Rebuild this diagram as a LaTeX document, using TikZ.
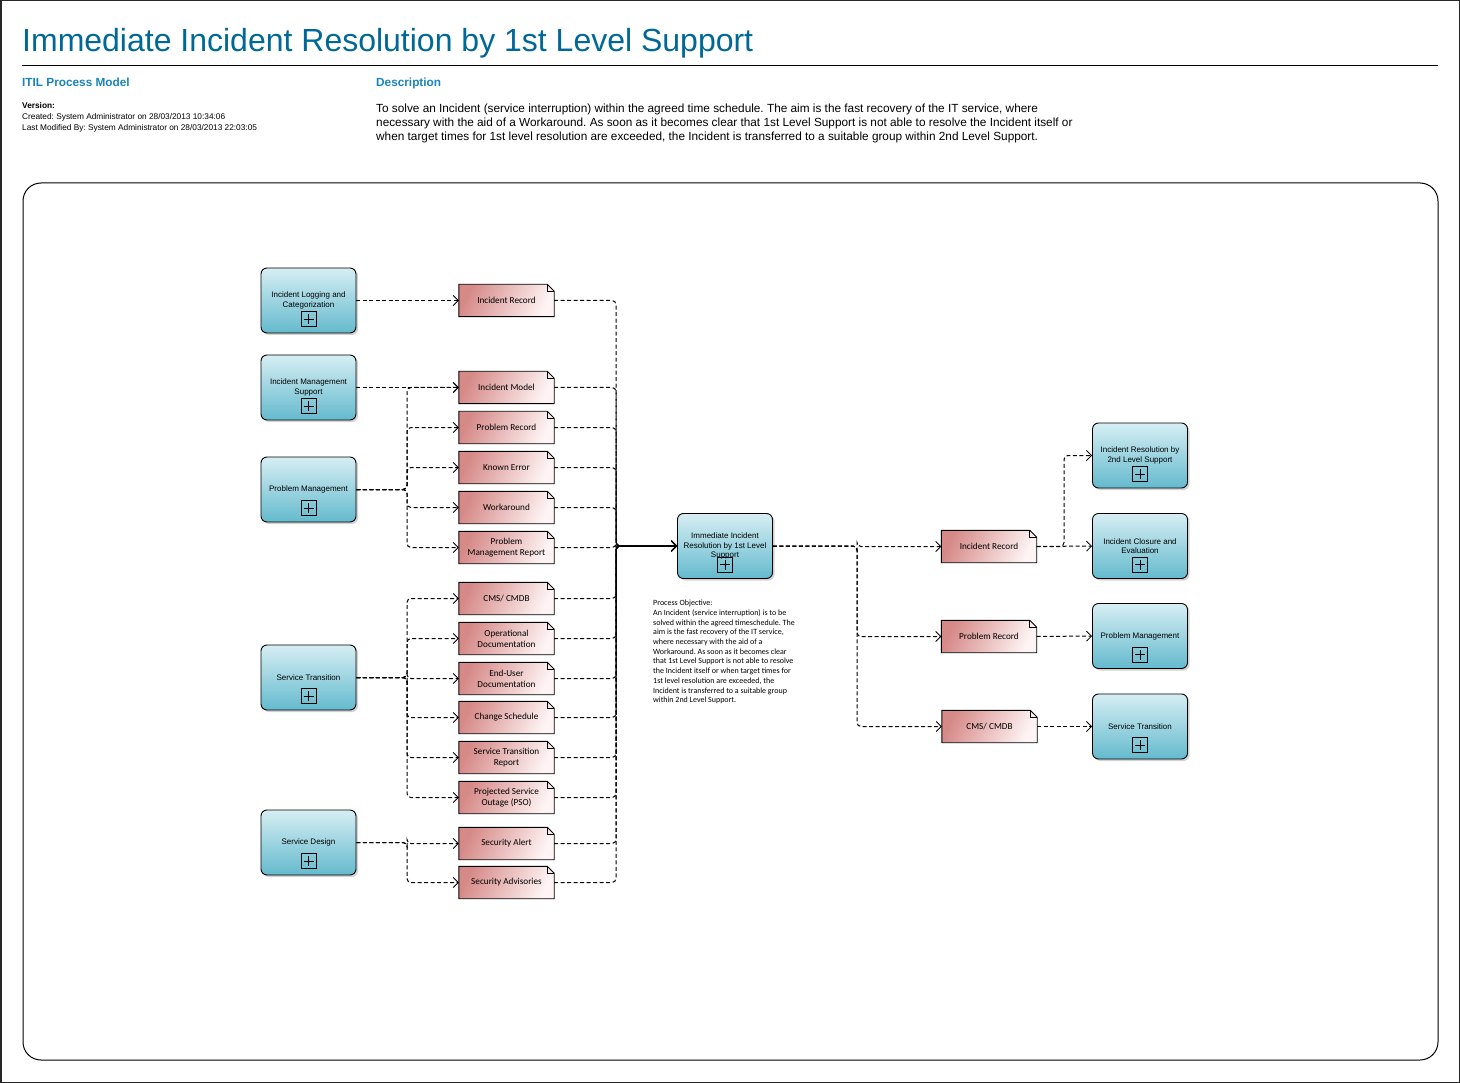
\documentclass[tikz,border=0pt]{standalone}
\usepackage{fontspec}
\setmainfont{Liberation Sans}
\newfontfamily\notefont{Carlito}
\usetikzlibrary{arrows.meta, shadows, calc}
\frenchspacing

\definecolor{titleblue}{RGB}{0,104,150}
\definecolor{headblue}{RGB}{24,132,190}
\definecolor{proctop}{RGB}{214,238,243}
\definecolor{procbot}{RGB}{100,186,206}
\definecolor{docred}{RGB}{214,138,136}
\definecolor{docpale}{RGB}{254,244,244}

% process box with the small "+" marker below its text
\newcommand{\procnode}[3]{%
  \node[proc] (#1) at (#2) {#3};
  \node[plusbox] (#1-plus) at ([yshift=-18.5pt]#1.center) {};
}
% document with folded corner
\newcommand{\docnode}[3]{%
  \node[doc] (#1) at (#2) {#3};
  \draw[docline] (#1.south west) -- (#1.north west) -- ([xshift=-7pt]#1.north east)
    -- ([yshift=-7pt]#1.north east) -- (#1.south east) -- cycle;
  \draw[docline, line width=0.5pt] ([xshift=-7pt]#1.north east)
    -- ([xshift=-7pt,yshift=-7pt]#1.north east) -- ([yshift=-7pt]#1.north east);
}

\begin{document}
\begin{tikzpicture}[
    x=1pt, y=-1pt,
    proc/.style={draw, line width=0.9pt, rounded corners=6pt, minimum width=95pt,
      minimum height=65pt, inner sep=0pt, align=center,
      font=\fontsize{8}{9.5}\selectfont, top color=proctop, bottom color=procbot,
      drop shadow={shadow xshift=2pt, shadow yshift=-2pt, opacity=0.35}},
    plusbox/.style={draw, line width=0.8pt, minimum size=15pt, inner sep=0pt,
      path picture={\draw[line width=0.7pt]
        ([xshift=-5pt]path picture bounding box.center) -- ([xshift=5pt]path picture bounding box.center)
        ([yshift=-5pt]path picture bounding box.center) -- ([yshift=5pt]path picture bounding box.center);}},
    doc/.style={minimum width=95pt, minimum height=32pt, inner sep=0pt, align=center,
      font=\notefont\fontsize{9.2}{11}\selectfont,
      path picture={\shade[left color=docred, right color=docpale, shading angle=65]
        (path picture bounding box.south west) -- (path picture bounding box.north west)
        -- ([xshift=-7pt]path picture bounding box.north east)
        -- ([yshift=-7pt]path picture bounding box.north east)
        -- (path picture bounding box.south east) -- cycle;}},
    docline/.style={line width=0.9pt, line join=miter},
    link/.style={line width=1pt, dash pattern=on 4pt off 2.5pt, rounded corners=4pt,
      -{Straight Barb[length=5pt, width=10pt, line width=0.8pt]}},
    head/.style={anchor=base west, font=\bfseries\fontsize{11.8}{13}\selectfont, text=headblue, inner sep=0pt}
  ]
  \useasboundingbox (0,0) rectangle (1460,1083);
  \draw[line width=1.5pt, black!85] (0.75,0.75) rectangle (1459.25,1082.25);

  % header
  \node[anchor=base west, inner sep=0pt, text=titleblue,
    font=\fontsize{32}{36}\selectfont] (title) at (22,52)
    {Immediate Incident Resolution by 1st Level Support};
  \draw[line width=1pt] (22,66) -- (1438,66);
  \node[head] (hmodel) at (22,87) {ITIL Process Model};
  \node[head] (hdesc) at (376,87) {Description};
  \node[anchor=north west, inner sep=0pt, align=left,
    font=\fontsize{8.3}{11}\selectfont] (version) at (22,102)
    {\textbf{Version:}\\Created: System Administrator on 28/03/2013 10:34:06\\
     Last Modified By: System Administrator on 28/03/2013 22:03:05};
  \node[anchor=north west, inner sep=0pt, align=left,
    font=\fontsize{11.8}{14.3}\selectfont] (desc) at (376,103.5)
    {To solve an Incident (service interruption) within the agreed time schedule. The aim is the fast recovery of the IT service, where\\
     necessary with the aid of a Workaround. As soon as it becomes clear that 1st Level Support is not able to resolve the Incident itself or\\
     when target times for 1st level resolution are exceeded, the Incident is transferred to a suitable group within 2nd Level Support.};

  % diagram frame
  \draw[line width=1pt, rounded corners=18pt] (23,183) rectangle (1438,1060);

  % left processes
  \procnode{ilc}{308.5,300.5}{Incident Logging and\\Categorization}
  \procnode{ims}{308.5,387.5}{Incident Management\\Support}
  \procnode{pm}{308.5,489.5}{Problem Management}
  \procnode{st}{308.5,677.5}{Service Transition}
  \procnode{sd}{308.5,842.5}{Service Design}

  % input documents
  \docnode{dIR}{506.5,300.5}{Incident Record}
  \docnode{dIM}{506.5,387.5}{Incident Model}
  \docnode{dPR}{506.5,427.5}{Problem Record}
  \docnode{dKE}{506.5,467.5}{Known Error}
  \docnode{dWA}{506.5,507.5}{Workaround}
  \docnode{dPMR}{506.5,547.5}{Problem\\Management Report}
  \docnode{dCM}{506.5,598.5}{CMS/ CMDB}
  \docnode{dOD}{506.5,638.5}{Operational\\Documentation}
  \docnode{dEU}{506.5,678.5}{End-User\\Documentation}
  \docnode{dCS}{506.5,717.5}{Change Schedule}
  \docnode{dSTR}{506.5,757.5}{Service Transition\\Report}
  \docnode{dPSO}{506.5,797.5}{Projected Service\\Outage (PSO)}
  \docnode{dSA}{506.5,843.5}{Security Alert}
  \docnode{dSAd}{506.5,882.5}{Security Advisories}

  % central process
  \procnode{ctr}{725,546}{Immediate Incident\\Resolution by 1st Level\\Support}
  \node[anchor=north west, inner sep=0pt, align=left,
    font=\notefont\fontsize{8}{9.7}\selectfont] (objective) at (653,600)
    {Process Objective:\\
     An Incident (service interruption) is to be\\
     solved within the agreed timeschedule. The\\
     aim is the fast recovery of the IT service,\\
     where necessary with the aid of a\\
     Workaround. As soon as it becomes clear\\
     that 1st Level Support is not able to resolve\\
     the Incident itself or when target times for\\
     1st level resolution are exceeded, the\\
     Incident is transferred to a suitable group\\
     within 2nd Level Support.};

  % output documents
  \docnode{rIR}{989,546.5}{Incident Record}
  \docnode{rPR}{989,636.5}{Problem Record}
  \docnode{rCM}{989.5,726.5}{CMS/ CMDB}

  % right processes
  \procnode{p2nd}{1140,455.5}{Incident Resolution by\\2nd Level Support}
  \procnode{pcl}{1140,546}{Incident Closure and\\Evaluation}
  \procnode{ppm}{1140,636}{Problem Management}
  \procnode{pst}{1140,726.5}{Service Transition}

  % junctions
  \coordinate (jPM) at (407,489.5);
  \coordinate (jST) at (407,677.5);
  \coordinate (jSD) at (407,842.5);
  \coordinate (jIn) at (616,546);
  \coordinate (jOut) at (857,546);
  \coordinate (jIR) at (1064,546.5);

  % connectors
  \draw[link] (ilc) -- (dIR);
  \draw[link] (ims) -- (dIM);
  \foreach \d in {dIM,dPR,dKE,dWA,dPMR}
    \draw[link] (pm.east) -- (jPM) |- (\d.west);
  \foreach \d in {dCM,dOD,dEU,dCS,dSTR,dPSO}
    \draw[link] (st.east) -- (jST) |- (\d.west);
  \foreach \d in {dSA,dSAd}
    \draw[link] (sd.east) -- (jSD) |- (\d.west);
  \foreach \d in {dIR,dIM,dPR,dKE,dWA,dPMR,dCM,dOD,dEU,dCS,dSTR,dPSO,dSA,dSAd}
    \draw[link] (\d.east) -| (jIn) -- (ctr.west);
  \foreach \d in {rIR,rPR,rCM}
    \draw[link] (ctr.east) -- (jOut) |- (\d.west);
  \draw[link] (rIR.east) -- (jIR) |- (p2nd.west);
  \draw[link] (rIR) -- (pcl);
  \draw[link] (rPR) -- (ppm);
  \draw[link] (rCM) -- (pst);
\end{tikzpicture}
\end{document}
